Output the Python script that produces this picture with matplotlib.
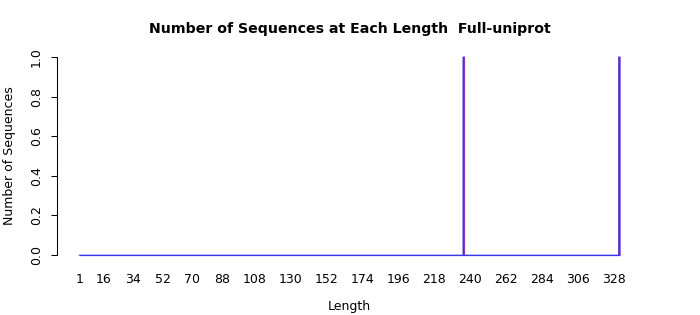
import matplotlib
matplotlib.use("Agg")
import matplotlib.pyplot as plt
import numpy as np

# Data
lengths = list(range(1, 332))
peak_lengths = [236, 331]
peak_counts = [1, 1]
counts = [peak_counts[peak_lengths.index(L)] if L in peak_lengths else 0 for L in lengths]
tick_labels = [1, 16, 34, 52, 70, 88, 108, 130, 152, 174, 196, 218, 240, 262, 284, 306, 328]

fig = plt.figure(figsize=(7, 3.15), dpi=100)
ax = fig.add_axes([57/700, 1 - 263/315, (641.6 - 57)/700, (263 - 49)/315])

bw = 1/1.2
ax.bar(lengths, counts, width=bw * 1.4, color="#d0007a", edgecolor="#3a3ae8", linewidth=0.45, snap=False)
ax.hlines(0, lengths[0] - bw/2, lengths[-1] + bw/2, color="#3a3ae8", linewidth=0.9)

span = (lengths[-1] + bw/2) - (lengths[0] - bw/2)
ax.set_xlim(lengths[0] - bw/2 - 0.04*span, lengths[-1] + bw/2 + 0.04*span)
ax.set_ylim(-0.04, 1.04)

for s in ["top", "right", "bottom"]:
    ax.spines[s].set_visible(False)
ax.spines["left"].set_bounds(0, 1)
ax.spines["left"].set_linewidth(0.75)

ax.set_yticks([0, 0.2, 0.4, 0.6, 0.8, 1.0])
ax.set_yticklabels(["0.0", "0.2", "0.4", "0.6", "0.8", "1.0"], rotation=90, va="center", fontsize=9)
ax.tick_params(axis="y", length=4, width=0.75, pad=6)

ax.set_xticks(tick_labels)
ax.set_xticklabels([str(t) for t in tick_labels], fontsize=9)
ax.tick_params(axis="x", length=0, pad=7.5)

ax.set_xlabel("Length", fontsize=9, labelpad=10)
ax.set_ylabel("Number of Sequences", fontsize=9, labelpad=10)
fig.text(350/700, 1 - 29.5/315, "Number of Sequences at Each Length  Full-uniprot",
         ha="center", va="center", fontsize=10.2, fontweight="bold")

fig.savefig("out.png", dpi=100)
